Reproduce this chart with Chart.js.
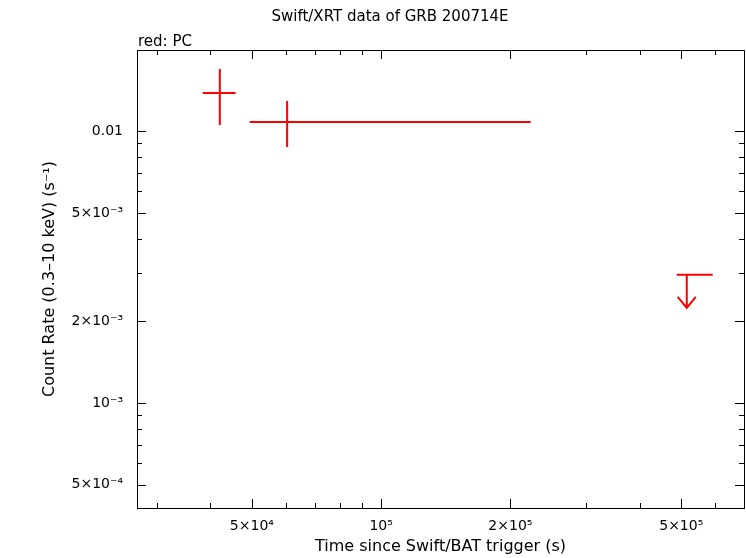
<!DOCTYPE html>
<html><head><meta charset="utf-8">
<script src="https://cdn.jsdelivr.net/npm/chart.js@4/dist/chart.umd.min.js"></script>
<style>body{margin:0;background:#fff}#w{width:746px;height:558px}</style>
</head><body><div id="w"><canvas id="c" width="746" height="558"></canvas></div>
<script>
const timeCenter = [42100, 60400];
const timeLow = [38400, 49400];
const timeHigh = [45800, 223000];
const rate = [0.0138, 0.01079];
const rateLow = [0.01052, 0.00873];
const rateHigh = [0.0169, 0.01289];
const ulTime = [515000], ulTimeLow = [488000], ulTimeHigh = [592000], ulRate = [0.00296];
const xTickLabels = {50000:'5×10⁴',100000:'10⁵',200000:'2×10⁵',500000:'5×10⁵'};
const yTickLabels = {0.01:'0.01',0.005:'5×10⁻³',0.002:'2×10⁻³',0.001:'10⁻³',0.0005:'5×10⁻⁴'};
const X_MIN=27000, X_MAX=700000, Y_MIN=4.11e-4, Y_MAX=0.01986;
const FONT='"DejaVu Sans", Arial';

function logTicks(min,max){const t=[];for(let e=-5;e<=7;e++)for(let m=1;m<10;m++){const v=m*Math.pow(10,e);if(v>=min&&v<=max)t.push(+v.toPrecision(3));}return t;}
const plug={id:'eb',afterDatasetsDraw(ch){
 const c=ch.ctx,x=ch.scales.x,y=ch.scales.y,a=ch.chartArea;
 c.save();c.strokeStyle='#000';c.lineWidth=1;
 c.strokeRect(a.left+0.5,a.top+0.5,a.right-a.left,a.bottom-a.top);
 logTicks(X_MIN,X_MAX).forEach(v=>{const p=Math.round(x.getPixelForValue(v))+0.5;const L=xTickLabels[v]?9:5;
  c.beginPath();c.moveTo(p,a.bottom);c.lineTo(p,a.bottom-L);c.moveTo(p,a.top);c.lineTo(p,a.top+L);c.stroke();});
 logTicks(Y_MIN,Y_MAX).forEach(v=>{const p=Math.round(y.getPixelForValue(v))+0.5;const L=yTickLabels[v]!==undefined?9:5;
  c.beginPath();c.moveTo(a.left,p);c.lineTo(a.left+L,p);c.moveTo(a.right,p);c.lineTo(a.right-L,p);c.stroke();});
 c.strokeStyle='#f00';c.lineWidth=2;
 for(let i=0;i<timeCenter.length;i++){const px=x.getPixelForValue(timeCenter[i]),py=y.getPixelForValue(rate[i]);
  c.beginPath();c.moveTo(x.getPixelForValue(timeLow[i]),py);c.lineTo(x.getPixelForValue(timeHigh[i]),py);
  c.moveTo(px,y.getPixelForValue(rateLow[i]));c.lineTo(px,y.getPixelForValue(rateHigh[i]));c.stroke();}
 for(let i=0;i<ulTime.length;i++){const px=x.getPixelForValue(ulTime[i]),py=y.getPixelForValue(ulRate[i]);
  c.beginPath();c.moveTo(x.getPixelForValue(ulTimeLow[i]),py);c.lineTo(x.getPixelForValue(ulTimeHigh[i]),py);
  c.moveTo(px,py);c.lineTo(px,py+33);c.moveTo(px-9,py+22);c.lineTo(px,py+33);c.lineTo(px+9,py+22);c.stroke();}
 c.fillStyle='#000';c.font='15px '+FONT;c.textAlign='left';c.textBaseline='alphabetic';
 c.fillText('red: PC',138,46);
 c.restore();}};
new Chart(document.getElementById('c'),{type:'scatter',data:{datasets:[{data:timeCenter.map((t,i)=>({x:t,y:rate[i]})),pointRadius:0}]},
 options:{responsive:false,animation:false,layout:{padding:{left:36,right:2,top:0,bottom:2}},
 plugins:{legend:{display:false},tooltip:{enabled:false},title:{display:true,text:'Swift/XRT data of GRB 200714E',color:'#000',font:{family:FONT,size:15,weight:'normal'},padding:{top:8,bottom:24}}},
 scales:{
  x:{type:'logarithmic',min:X_MIN,max:X_MAX,grid:{display:false},border:{display:false},
   afterBuildTicks(s){s.ticks=Object.keys(xTickLabels).map(v=>({value:+v}));},
   ticks:{autoSkip:false,maxRotation:0,color:'#000',font:{family:FONT,size:14},padding:2,callback:v=>xTickLabels[v]||''},
   title:{display:true,text:'Time since Swift/BAT trigger (s)',color:'#000',font:{family:FONT,size:16},padding:{top:0,bottom:0}}},
  y:{type:'logarithmic',min:Y_MIN,max:Y_MAX,grid:{display:false},border:{display:false},
   afterBuildTicks(s){s.ticks=Object.keys(yTickLabels).map(v=>({value:+v}));},
   ticks:{autoSkip:false,color:'#000',font:{family:FONT,size:14},padding:6,callback:v=>yTickLabels[v]||''},
   title:{display:true,text:'Count Rate (0.3–10 keV) (s⁻¹)',color:'#000',font:{family:FONT,size:16},padding:{bottom:0}},
   afterFit(s){s.width=137-36;}}}},
 plugins:[plug]});
</script></body></html>
